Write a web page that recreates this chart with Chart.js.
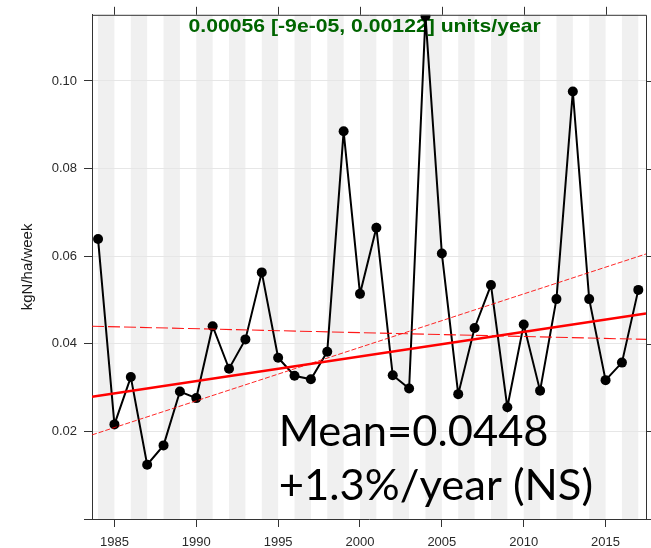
<!DOCTYPE html>
<html><head><meta charset="utf-8">
<script src="https://cdn.jsdelivr.net/npm/chart.js@4"></script>
<style>html,body{margin:0;padding:0;background:#fff;overflow:hidden}canvas{display:block}</style>
</head><body>
<canvas id="c" width="651" height="548"></canvas>
<script>
// ---- data ----
const years = [1984,1985,1986,1987,1988,1989,1990,1991,1992,1993,1994,1995,1996,1997,1998,1999,2000,
               2001,2002,2003,2004,2005,2006,2007,2008,2009,2010,2011,2012,2013,2014,2015,2016,2017];
const values = [0.0639,0.0216,0.0324,0.0124,0.0168,0.0291,0.0276,0.0440,0.0343,0.0410,0.0563,0.0368,0.0327,0.0319,0.0382,0.0885,0.0514,
                0.0665,0.0328,0.0298,0.1148,0.0606,0.0285,0.0436,0.0534,0.0255,0.0444,0.0293,0.0502,0.0976,0.0502,0.0317,0.0357,0.0523];
const xTickValues = [1985,1990,1995,2000,2005,2010,2015];
const xTickLabels = ['1985','1990','1995','2000','2005','2010','2015'];
const yTickValues = [0,0.02,0.04,0.06,0.08,0.10];
const yTickLabels = ['','0.02','0.04','0.06','0.08','0.10'];
const xRange = [1983.63, 2017.47];
const yRange = [0, 0.1151];
const lineEnds = [1983.63, 2017.47];
const trendValues = [0.0279, 0.0469];
const flatDashValues = [0.0440, 0.0410];
const risingDashValues = [0.0192, 0.0605];
const slopeText = '0.00056 [-9e-05, 0.00122] units/year';
const meanText = 'Mean=0.0448';
const changeText = '+1.3%/year (NS)';
const yTitle = 'kgN/ha/week';

const pts = (xs, ys) => xs.map((x, i) => ({x: x, y: ys[i]}));

function fitText(ctx, text, inkLeft, baseline, font, inkWidth, color) {
  ctx.save();
  ctx.font = font; ctx.fillStyle = color; ctx.textAlign = 'left'; ctx.textBaseline = 'alphabetic';
  const m = ctx.measureText(text);
  const w = m.actualBoundingBoxRight + m.actualBoundingBoxLeft;
  ctx.translate(inkLeft, baseline);
  ctx.scale(inkWidth / w, 1);
  ctx.fillText(text, m.actualBoundingBoxLeft, 0);
  ctx.restore();
}

const deco = {
  id: 'deco',
  beforeDraw(chart) {
    const {ctx, chartArea: a, scales: {x}} = chart;
    ctx.save();
    ctx.fillStyle = '#f0f0f0';
    years.forEach((yr, i) => {
      if (yr % 2 === 0 && i + 1 < years.length) {
        const x0 = x.getPixelForValue(yr), x1 = x.getPixelForValue(years[i + 1]);
        ctx.fillRect(x0, a.top, x1 - x0, a.bottom - a.top);
      }
    });
    ctx.restore();
  },
  beforeDatasetsDraw(chart) {
    fitText(chart.ctx, slopeText, 188.5, 31.7, 'bold 18.6px "Liberation Sans", Arial, sans-serif', 352, '#006400');
  },
  afterDatasetsDraw(chart) {
    const ctx = chart.ctx;
    fitText(ctx, meanText, 281.7, 445.7, '42.8px Lato, "Open Sans", sans-serif', 265, '#000');
    fitText(ctx, changeText, 280.7, 500, '42.8px Lato, "Open Sans", sans-serif', 311, '#000');
  },
  afterDraw(chart) {
    const {ctx, chartArea: a, scales: {x, y}} = chart;
    ctx.save();
    ctx.strokeStyle = '#333'; ctx.lineWidth = 1;
    ctx.beginPath();
    ctx.moveTo(a.left, a.top + 0.5); ctx.lineTo(a.right + 0.5, a.top + 0.5); ctx.lineTo(a.right + 0.5, a.bottom);
    xTickValues.forEach(v => { const px = Math.round(x.getPixelForValue(v)) + 0.5; ctx.moveTo(px, a.top); ctx.lineTo(px, a.top - 8); });
    yTickValues.forEach(v => { const py = Math.round(y.getPixelForValue(v)) + 0.5; ctx.moveTo(a.right, py); ctx.lineTo(a.right + 8, py); });
    ctx.stroke();
    ctx.restore();
  }
};

new Chart(document.getElementById('c'), {
  type: 'line',
  data: {
    datasets: [
      { data: pts(lineEnds, trendValues), borderColor: '#ff0000', borderWidth: 2.6, pointRadius: 0, order: 0 },
      { data: pts(lineEnds, flatDashValues), borderColor: 'rgba(255,0,0,0.9)', borderWidth: 1.1, borderDash: [12, 4], pointRadius: 0, order: 1 },
      { data: pts(lineEnds, risingDashValues), borderColor: 'rgba(255,0,0,0.85)', borderWidth: 1, borderDash: [5, 2], pointRadius: 0, order: 2 },
      { data: pts(years, values), borderColor: '#000', borderWidth: 2, pointRadius: 5, pointHoverRadius: 5,
        pointBackgroundColor: '#000', pointBorderColor: '#000', pointBorderWidth: 0, tension: 0, order: 3 }
    ]
  },
  options: {
    responsive: false, animation: false, devicePixelRatio: 1,
    layout: { padding: { left: 0, right: 4, top: 11, bottom: 0 } },
    plugins: { legend: { display: false }, tooltip: { enabled: false }, title: { display: false } },
    scales: {
      x: {
        type: 'linear', min: xRange[0], max: xRange[1],
        afterBuildTicks: s => { s.ticks = xTickValues.map(v => ({value: v})); },
        afterFit: s => { s.height = 29; },
        ticks: { callback: (v, i) => xTickLabels[i], font: { family: '"Liberation Sans", Arial, sans-serif', size: 13 },
                 color: '#2a2a2a', padding: 8, maxRotation: 0, autoSkip: false },
        grid: { drawOnChartArea: false, tickColor: '#333', tickLength: 8 },
        border: { color: '#333', width: 1 }
      },
      y: {
        type: 'linear', min: yRange[0], max: yRange[1],
        afterBuildTicks: s => { s.ticks = yTickValues.map(v => ({value: v})); },
        afterFit: s => { s.width = 92; },
        ticks: { callback: (v, i) => yTickLabels[i], font: { family: '"Liberation Sans", Arial, sans-serif', size: 13 },
                 color: '#2a2a2a', padding: 7, autoSkip: false },
        grid: { color: c => (c.tick && c.tick.value === 0) ? 'rgba(0,0,0,0)' : '#e6e6e6', tickColor: '#333', tickLength: 8 },
        border: { color: '#333', width: 1 },
        title: { display: true, text: yTitle, color: '#1a1a1a', font: { family: '"Liberation Sans", Arial, sans-serif', size: 15 },
                 padding: { top: 19, bottom: 0 } }
      }
    }
  },
  plugins: [deco]
});
</script>
</body></html>
